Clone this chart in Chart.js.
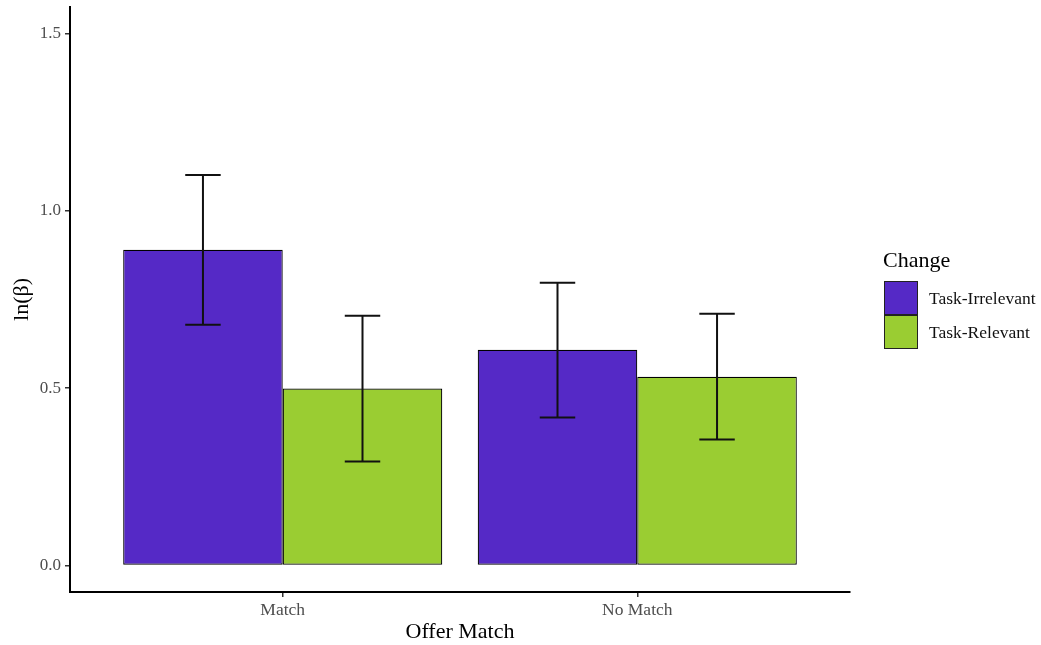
<!DOCTYPE html>
<html>
<head>
<meta charset="utf-8">
<script src="https://cdn.jsdelivr.net/npm/chart.js@4"></script>
<style>
  html, body { margin: 0; padding: 0; background: #fff; }
  #wrap { width: 1041px; height: 645px; }
</style>
</head>
<body>
<div id="wrap"><canvas id="c" width="1041" height="645"></canvas></div>
<script>
// Offer-match conditions on the x axis
const categories = ['Match', 'No Match'];
const seriesNames = ['Task-Irrelevant', 'Task-Relevant'];

// Mean ln(beta) per condition
const irrelevantMean = [0.890, 0.608];
const relevantMean   = [0.499, 0.532];

// Error bar limits
const irrelevantLow  = [0.679, 0.417];
const irrelevantHigh = [1.101, 0.797];
const relevantLow    = [0.293, 0.355];
const relevantHigh   = [0.704, 0.710];

const yTicks = [0, 0.5, 1.0, 1.5];
const yTickLabels = ['0.0', '0.5', '1.0', '1.5'];

const colors = ['#5529C6', '#9ACD32'];
const serif = "'Liberation Serif', 'Times New Roman', serif";

function points(vals) {
  return vals.map((v, i) => ({ x: i + 1, y: v }));
}

const errorBars = [
  { low: irrelevantLow, high: irrelevantHigh },
  { low: relevantLow, high: relevantHigh }
];

// Whiskers drawn over each bar, positioned via the chart's own scales
const errorBarPlugin = {
  id: 'errorBars',
  afterDatasetsDraw(chart) {
    const ctx = chart.ctx;
    const xs = chart.scales.x, ys = chart.scales.y;
    const capHalf = Math.abs(xs.getPixelForValue(0.05) - xs.getPixelForValue(0));
    ctx.save();
    ctx.strokeStyle = '#111';
    ctx.lineWidth = 2;
    chart.data.datasets.forEach((ds, di) => {
      const meta = chart.getDatasetMeta(di);
      meta.data.forEach((bar, i) => {
        const x = bar.x;
        const yl = ys.getPixelForValue(errorBars[di].low[i]);
        const yh = ys.getPixelForValue(errorBars[di].high[i]);
        ctx.beginPath();
        ctx.moveTo(x, yl); ctx.lineTo(x, yh);
        ctx.moveTo(x - capHalf, yl); ctx.lineTo(x + capHalf, yl);
        ctx.moveTo(x - capHalf, yh); ctx.lineTo(x + capHalf, yh);
        ctx.stroke();
      });
    });
    ctx.restore();
  }
};

// Legend with title and square keys on the right
const sideLegendPlugin = {
  id: 'sideLegend',
  afterDraw(chart) {
    const ctx = chart.ctx;
    const x0 = chart.chartArea.right + 34;
    ctx.save();
    ctx.fillStyle = '#000';
    ctx.font = '22px ' + serif;
    ctx.textBaseline = 'alphabetic';
    ctx.textAlign = 'left';
    ctx.fillText('Change', x0 - 1, 267);
    const box = 34, top = 281;
    chart.data.datasets.forEach((ds, i) => {
      const y = top + i * box;
      ctx.fillStyle = ds.backgroundColor;
      ctx.fillRect(x0, y, box, box);
      ctx.strokeStyle = '#222';
      ctx.lineWidth = 1;
      ctx.strokeRect(x0 + 0.5, y + 0.5, box - 1, box - 1);
      ctx.fillStyle = '#111';
      ctx.font = '17.5px ' + serif;
      ctx.textBaseline = 'middle';
      ctx.fillText(ds.label, x0 + 45, y + box / 2 + 1);
    });
    ctx.restore();
  }
};

new Chart(document.getElementById('c'), {
  type: 'bar',
  data: {
    datasets: [
      { label: seriesNames[0], data: points(irrelevantMean), backgroundColor: colors[0],
        borderColor: '#000', borderWidth: 1.2, borderSkipped: false },
      { label: seriesNames[1], data: points(relevantMean), backgroundColor: colors[1],
        borderColor: '#000', borderWidth: 1.2, borderSkipped: false }
    ]
  },
  options: {
    responsive: false,
    animation: false,
    devicePixelRatio: 1,
    layout: { padding: { top: 7, right: 191, left: 0, bottom: 0 } },
    datasets: { bar: { categoryPercentage: 0.9, barPercentage: 1.0, grouped: true } },
    plugins: { legend: { display: false }, tooltip: { enabled: false } },
    scales: {
      x: {
        type: 'linear',
        min: 0.4, max: 2.6,
        offset: false,
        afterBuildTicks(s) { s.ticks = categories.map((c, i) => ({ value: i + 1 })); },
        afterFit(s) { s.height = 53; },
        ticks: {
          callback: (v) => categories[Math.round(v) - 1],
          color: '#4d4d4d',
          font: { family: serif, size: 17.5 },
          padding: 3,
          maxRotation: 0
        },
        grid: { offset: false, drawOnChartArea: false, drawTicks: true, tickLength: 5, color: '#333', lineWidth: 1.5 },
        border: { display: true, color: '#000', width: 2 },
        title: { display: true, text: 'Offer Match', color: '#000',
                 font: { family: serif, size: 22 }, padding: { top: 0, bottom: 0 } }
      },
      y: {
        type: 'linear',
        min: -0.075, max: 1.575,
        afterBuildTicks(s) { s.ticks = yTicks.map(v => ({ value: v })); },
        afterFit(s) { s.width = 70; },
        ticks: {
          callback: (v) => yTickLabels[yTicks.indexOf(v)],
          color: '#4d4d4d',
          font: { family: serif, size: 17, lineHeight: 0.25 },
          padding: 4
        },
        grid: { offset: false, drawOnChartArea: false, drawTicks: true, tickLength: 5, color: '#333', lineWidth: 1.5 },
        border: { display: true, color: '#000', width: 2 },
        title: { display: true, text: 'ln(β)', color: '#000',
                 font: { family: serif, size: 22 }, padding: { top: 9, bottom: 0 } }
      }
    }
  },
  plugins: [errorBarPlugin, sideLegendPlugin]
});
</script>
</body>
</html>
